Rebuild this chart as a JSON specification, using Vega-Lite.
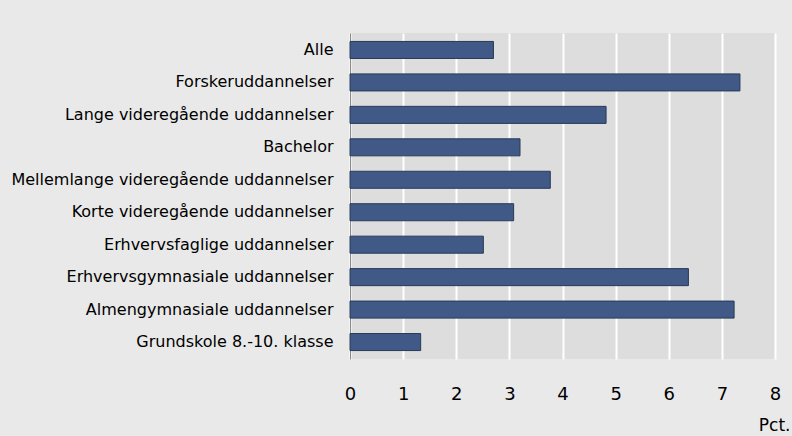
{
  "$schema": "https://vega.github.io/schema/vega-lite/v6.json",
  "width": 425,
  "height": 326,
  "autosize": {"type": "none"},
  "padding": {"left": 350, "top": 33, "right": 17, "bottom": 77},
  "background": "#e9e9e9",
  "data": {
    "values": [
      {"uddannelse": "Alle", "pct": 2.70},
      {"uddannelse": "Forskeruddannelser", "pct": 7.34},
      {"uddannelse": "Lange videregående uddannelser", "pct": 4.82},
      {"uddannelse": "Bachelor", "pct": 3.20},
      {"uddannelse": "Mellemlange videregående uddannelser", "pct": 3.77},
      {"uddannelse": "Korte videregående uddannelser", "pct": 3.08},
      {"uddannelse": "Erhvervsfaglige uddannelser", "pct": 2.51},
      {"uddannelse": "Erhvervsgymnasiale uddannelser", "pct": 6.37},
      {"uddannelse": "Almengymnasiale uddannelser", "pct": 7.23},
      {"uddannelse": "Grundskole 8.-10. klasse", "pct": 1.33}
    ]
  },
  "mark": {"type": "bar", "fill": "#405986", "stroke": "#283a58", "strokeWidth": 1},
  "encoding": {
    "y": {
      "field": "uddannelse",
      "type": "nominal",
      "sort": null,
      "scale": {"paddingInner": 0.475, "paddingOuter": 0.26},
      "axis": {
        "title": null,
        "ticks": false,
        "grid": false,
        "domain": true,
        "domainColor": "#8a8a8a",
        "domainWidth": 1,
        "labelFont": "DejaVu Sans",
        "labelFontSize": 16,
        "labelColor": "#000000",
        "labelPadding": 17,
        "labelLimit": 400
      }
    },
    "x": {
      "field": "pct",
      "type": "quantitative",
      "scale": {"domain": [0, 8], "nice": false},
      "axis": {
        "values": [0, 1, 2, 3, 4, 5, 6, 7, 8],
        "format": "d",
        "title": "Pct.",
        "titleFont": "DejaVu Sans",
        "titleFontSize": 17,
        "titleFontWeight": "normal",
        "titleColor": "#000000",
        "titleAnchor": "end",
        "titleAlign": "right",
        "titleBaseline": "alphabetic",
        "titleX": 440,
        "titleY": 71,
        "ticks": false,
        "domain": false,
        "grid": true,
        "gridColor": "#ffffff",
        "gridWidth": 2,
        "gridOpacity": 1,
        "labelFont": "DejaVu Sans",
        "labelFontSize": 18,
        "labelColor": "#000000",
        "labelPadding": 26,
        "labelFlush": false
      }
    }
  },
  "config": {
    "view": {"fill": "#dddddd", "stroke": null}
  }
}
